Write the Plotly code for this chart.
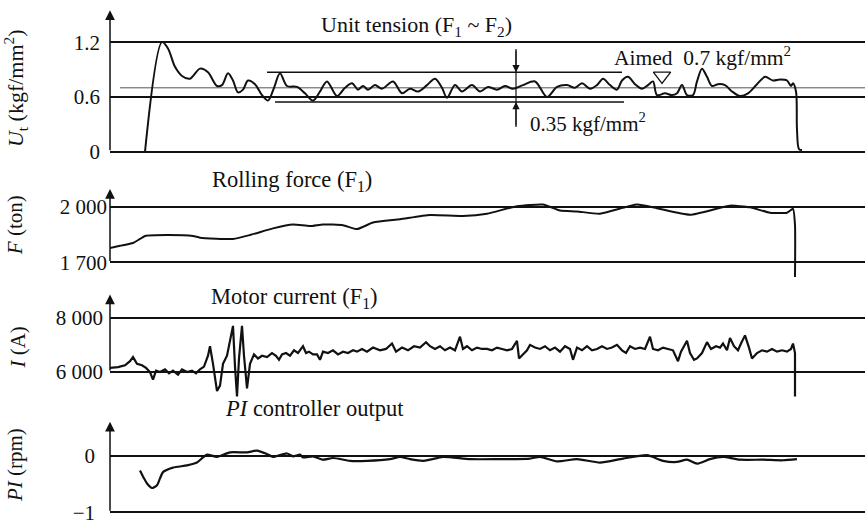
import plotly.graph_objects as go

# ---------------- data ----------------
# Panel 1: unit tension Ut (kgf/mm^2) vs time (s)
ut_t = [3.5, 5.2, 5.8, 6.5, 7.2, 8.0, 9.0, 9.8, 10.7, 11.2, 11.8, 12.3, 12.8, 13.3, 13.8, 14.5,
        15.2, 15.8, 16.4, 17.0, 17.7, 18.7, 19.5, 20.3, 21.0, 21.7, 22.7, 23.5, 24.2, 24.8, 25.3,
        25.8, 26.5, 27.2, 28.3, 29.2, 30.0, 30.8, 31.7, 32.5, 33.2, 33.7, 34.5, 35.2, 36.2, 37.0,
        37.8, 38.7, 39.5, 40.3, 41.3, 42.5, 43.7, 44.7, 45.7, 46.5, 47.2, 48.0, 48.7, 49.3, 50.0,
        50.7, 51.2, 51.8, 52.5, 53.2, 53.8, 54.3, 54.7, 55.5, 56.2, 56.7, 57.2, 57.7, 58.3, 58.7,
        59.2, 59.7, 60.2, 60.8, 61.5, 62.2, 63.0, 63.8, 64.7, 65.5, 66.3, 67.0, 67.7, 68.1, 68.3,
        68.6, 68.7, 68.9, 69.2]
ut_v = [0.00, 1.20, 1.13, 0.93, 0.83, 0.80, 0.91, 0.87, 0.72, 0.73, 0.86, 0.78, 0.65, 0.68, 0.78, 0.74,
        0.62, 0.56, 0.70, 0.86, 0.72, 0.71, 0.64, 0.56, 0.66, 0.77, 0.61, 0.70, 0.75, 0.68, 0.72,
        0.68, 0.73, 0.69, 0.77, 0.64, 0.69, 0.66, 0.73, 0.80, 0.70, 0.59, 0.73, 0.66, 0.73, 0.66,
        0.71, 0.68, 0.72, 0.69, 0.73, 0.77, 0.60, 0.71, 0.73, 0.70, 0.75, 0.69, 0.73, 0.80, 0.73,
        0.68, 0.78, 0.82, 0.74, 0.69, 0.73, 0.77, 0.62, 0.64, 0.62, 0.64, 0.73, 0.62, 0.62, 0.77,
        0.91, 0.82, 0.72, 0.74, 0.73, 0.66, 0.61, 0.64, 0.74, 0.82, 0.78, 0.79, 0.78, 0.72, 0.75,
        0.66, 0.24, 0.03, 0.02]
ut_ticks = [0, 0.6, 1.2]
ut_ticktext = ["0", "0.6", "1.2"]
aimed_value = 0.7
aimed_t = [1.0, 75.5]
band_upper_t = [15.7, 51.2]
band_upper_v = 0.87
band_lower_t = [16.5, 51.4]
band_lower_v = 0.545
dim_t = 40.6
dim_top, dim_bottom = 1.125, 0.27
marker_t, marker_v = 55.2, 0.83

# Panel 2: rolling force F (ton)
f_t = [0.0, 1.0, 2.3, 3.0, 3.5, 5.7, 8.3, 9.0, 12.3, 14.0, 16.3, 18.3, 20.0, 21.3, 23.3, 24.7,
       26.3, 29.0, 32.0, 35.3, 37.7, 40.7, 43.3, 45.0, 46.7, 49.0, 52.7, 54.7, 58.0, 62.0, 64.0,
       66.0, 67.7, 68.3, 68.5, 68.5]
f_v = [1777, 1789, 1804, 1826, 1842, 1847, 1842, 1833, 1826, 1847, 1883, 1904, 1895, 1904, 1900, 1879,
       1914, 1932, 1955, 1950, 1962, 2002, 2011, 1979, 1974, 1962, 2011, 1991, 1956, 2005, 1996,
       1967, 1967, 1988, 1900, 1621]
f_ticks = [1700, 2000]
f_ticktext = ["1 700", "2 000"]

# Panel 3: motor current I (A)
i_t = [0.0, 0.8, 1.5, 2.0, 2.3, 2.7, 3.2, 3.6, 4.0, 4.3, 4.6, 5.0, 5.5, 5.9, 6.3, 6.8, 7.2, 7.7,
       8.2, 8.6, 9.0, 9.4, 9.8, 10.0, 10.3, 10.7, 11.0, 11.3, 11.7, 12.0, 12.3, 12.5, 12.7, 12.9,
       13.2, 13.4, 13.7, 14.0, 14.4, 14.8, 15.2, 15.7, 16.2, 16.6, 16.9, 17.2, 17.6, 18.0, 18.4,
       18.8, 19.3, 19.6, 19.9, 20.3, 20.7, 21.0, 21.3, 21.8, 22.3, 22.8, 23.3, 23.8, 24.3, 24.7,
       25.2, 25.7, 26.3, 27.0, 27.6, 28.2, 28.6, 29.2, 29.8, 30.4, 31.0, 31.6, 32.0, 32.5, 33.0,
       33.5, 34.0, 34.5, 35.0, 35.3, 35.7, 36.2, 36.7, 37.2, 37.7, 38.2, 38.7, 39.2, 39.7, 40.2,
       40.7, 40.9, 41.3, 41.7, 42.0, 42.5, 43.0, 43.5, 44.0, 44.5, 45.0, 45.5, 46.0, 46.3, 46.7,
       47.2, 47.7, 48.2, 48.7, 49.2, 49.7, 50.2, 50.7, 51.2, 51.6, 52.0, 52.5, 53.0, 53.5, 54.0,
       54.3, 54.8, 55.3, 55.8, 56.3, 56.8, 57.1, 57.7, 58.0, 58.4, 58.7, 59.2, 59.7, 60.1, 60.6,
       61.0, 61.3, 61.7, 62.0, 62.4, 62.8, 63.1, 63.5, 63.9, 64.2, 64.7, 65.2, 65.7, 66.2, 66.7,
       67.2, 67.7, 68.1, 68.3, 68.5, 68.5]
i_v = [6150, 6180, 6250, 6400, 6550, 6300, 6250, 6150, 6000, 5720, 6050, 6000, 6100, 5950, 6050, 5900, 6100, 6000,
       6050, 5950, 6100, 6200, 6600, 6950, 6300, 5300, 5500, 6300, 6600, 7100, 7700, 6200, 5100, 6500,
       7700, 6600, 5400, 6300, 6650, 6500, 6600, 6550, 6700, 6600, 6450, 6650, 6700, 6600, 6800,
       6700, 6950, 6700, 6750, 6650, 6650, 6450, 6750, 6700, 6800, 6650, 6750, 6700, 6800, 6750,
       6850, 6750, 6900, 6800, 6850, 7050, 6750, 6900, 6800, 6950, 6900, 7100, 6950, 6850, 6950,
       6800, 6900, 6800, 7300, 6850, 6950, 6800, 6900, 6850, 6850, 6800, 6900, 6850, 6800, 6850,
       7150, 6500, 6650, 6800, 7000, 6900, 6850, 6950, 6800, 6900, 6750, 6950, 6850, 6450, 6900,
       6800, 6950, 6800, 6850, 6950, 6850, 6900, 7000, 6800, 6700, 6950, 6850, 6900, 6850, 7300,
       6850, 6800, 6900, 6850, 6800, 6400, 6750, 7150, 6700, 6450, 6500, 6700, 7100, 6850, 6950,
       6900, 7050, 6800, 7250, 6950, 6800, 7050, 7350, 6900, 6500, 6700, 6800, 6750, 6850, 6750,
       6800, 6750, 6850, 7050, 6700, 5100]
i_ticks = [6000, 8000]
i_ticktext = ["6 000", "8 000"]

# Panel 4: PI controller output (rpm)
pi_t = [3.0, 3.4, 3.7, 4.2, 4.7, 5.0, 5.3, 6.3, 7.7, 8.7, 9.3, 9.7, 10.7, 12.0, 13.7, 14.7, 15.7,
        16.3, 17.7, 18.3, 19.0, 19.3, 20.3, 21.3, 22.3, 24.0, 25.7, 28.0, 29.0, 30.0, 31.3, 32.0,
        33.3, 36.0, 38.7, 42.0, 43.0, 44.7, 46.7, 49.0, 51.3, 53.7, 55.3, 56.7, 57.7, 58.7, 60.0,
        61.3, 63.0, 65.3, 67.3, 68.7]
pi_v = [-0.26, -0.40, -0.49, -0.57, -0.52, -0.40, -0.29, -0.21, -0.17, -0.12, -0.03, 0.02, -0.02, 0.06,
        0.06, 0.09, 0.03, -0.02, 0.04, -0.01, 0.02, -0.03, -0.01, -0.07, -0.04, -0.09, -0.09, -0.06,
        -0.02, -0.06, -0.09, -0.07, -0.02, -0.06, -0.06, -0.05, -0.02, -0.10, -0.06, -0.12, -0.05,
        0.01, -0.09, -0.11, -0.07, -0.14, -0.06, -0.02, -0.07, -0.07, -0.08, -0.06]
pi_ticks = [-1, 0]
pi_ticktext = ["\u22121", "0"]

# ---------------- figure ----------------
SERIF = "Liberation Serif, Times New Roman, serif"
BLACK = "#111111"
X_RANGE = [0, 75.5]
X_DOMAIN = [110 / 865, 1.0]

fig = go.Figure()

fig.add_trace(go.Scatter(x=aimed_t, y=[aimed_value, aimed_value], mode="lines",
                         line=dict(color="#555555", width=1), xaxis="x", yaxis="y", hoverinfo="skip"))
fig.add_trace(go.Scatter(x=band_upper_t, y=[band_upper_v] * 2, mode="lines",
                         line=dict(color=BLACK, width=1.6), xaxis="x", yaxis="y"))
fig.add_trace(go.Scatter(x=band_lower_t, y=[band_lower_v] * 2, mode="lines",
                         line=dict(color=BLACK, width=1.6), xaxis="x", yaxis="y"))
fig.add_trace(go.Scatter(x=[dim_t, dim_t], y=[dim_top, dim_bottom], mode="lines",
                         line=dict(color=BLACK, width=1.2), xaxis="x", yaxis="y"))
fig.add_trace(go.Scatter(x=ut_t, y=ut_v, mode="lines", line=dict(color=BLACK, width=2, shape="spline", smoothing=0.9),
                         xaxis="x", yaxis="y"))
fig.add_trace(go.Scatter(x=[marker_t], y=[marker_v], mode="markers",
                         marker=dict(symbol="triangle-down-open", size=15, color=BLACK, line=dict(width=1.3)),
                         xaxis="x", yaxis="y"))

fig.add_trace(go.Scatter(x=f_t, y=f_v, mode="lines", line=dict(color=BLACK, width=2, shape="spline", smoothing=0.5),
                         xaxis="x2", yaxis="y2"))
fig.add_trace(go.Scatter(x=i_t, y=i_v, mode="lines", line=dict(color=BLACK, width=2.2),
                         xaxis="x3", yaxis="y3"))
fig.add_trace(go.Scatter(x=pi_t, y=pi_v, mode="lines", line=dict(color=BLACK, width=2.2, shape="spline", smoothing=0.6),
                         xaxis="x4", yaxis="y4"))

def yax(domain, rng, tickvals, ticktext, anchor, standoff):
    return dict(domain=domain, range=rng, tickvals=tickvals, ticktext=ticktext, anchor=anchor,
                showgrid=True, gridcolor=BLACK, gridwidth=1.5, zeroline=False, showline=False,
                ticks="", ticklabelstandoff=standoff, fixedrange=True, ticklabeloverflow="allow",
                tickfont=dict(family=SERIF, size=21, color=BLACK))

def xax(anchor):
    return dict(domain=X_DOMAIN, range=X_RANGE, anchor=anchor, showgrid=False, zeroline=False,
                showline=False, showticklabels=False, ticks="", fixedrange=True)

fig.update_layout(
    width=865, height=525, margin=dict(l=0, r=0, t=0, b=0),
    paper_bgcolor="white", plot_bgcolor="white", showlegend=False,
    xaxis=xax("y"), xaxis2=xax("y2"), xaxis3=xax("y3"), xaxis4=xax("y4"),
    yaxis=yax([0.69905, 0.98476], [-0.032, 1.5756], ut_ticks, ut_ticktext, "x", 9),
    yaxis2=yax([0.45524, 0.63619], [1605.3, 2105.3], f_ticks, f_ticktext, "x2", 2),
    yaxis3=yax([0.22286, 0.43048], [4991, 8919], i_ticks, i_ticktext, "x3", 6),
    yaxis4=yax([0.0, 0.18286], [-1.029, 0.631], pi_ticks, pi_ticktext, "x4", 14),
)

# y-axis arrows (from bottom tick value to top)
axis_arrows = [("x", "y", 0, 1.55), ("x2", "y2", 1700, 2095), ("x3", "y3", 6000, 8850), ("x4", "y4", -1, 0.6)]
for xr, yr, lo, hi in axis_arrows:
    fig.add_annotation(x=0, y=hi, xref=xr, yref=yr, ax=0, ay=lo, axref=xr, ayref=yr,
                       showarrow=True, arrowhead=2, arrowsize=1.3, arrowwidth=1.5, arrowcolor=BLACK, text="")

# dimension arrows
fig.add_annotation(x=dim_t, y=band_upper_v, xref="x", yref="y", ax=dim_t, ay=dim_top, axref="x", ayref="y",
                   showarrow=True, arrowhead=2, arrowsize=1.2, arrowwidth=1.2, arrowcolor=BLACK, text="")
fig.add_annotation(x=dim_t, y=band_lower_v, xref="x", yref="y", ax=dim_t, ay=dim_bottom, axref="x", ayref="y",
                   showarrow=True, arrowhead=2, arrowsize=1.2, arrowwidth=1.2, arrowcolor=BLACK, text="")

def txt(text, x, y, size=22.5, xanchor="center", angle=0):
    fig.add_annotation(text=text, x=x, y=y, xref="paper", yref="paper", showarrow=False,
                       xanchor=xanchor, yanchor="middle", textangle=angle,
                       font=dict(family=SERIF, size=size, color=BLACK))

txt("Unit tension (F<sub>1</sub> ~ F<sub>2</sub>)", 0.481, 0.9486, size=22)
txt("Aimed  0.7 kgf/mm<sup>2</sup>", 0.8116, 0.891, size=21.5)
txt("0.35 kgf/mm<sup>2</sup>", 0.6104, 0.762, size=21, xanchor="left")
txt("Rolling force (F<sub>1</sub>)", 0.3376, 0.6476)
txt("Motor current (F<sub>1</sub>)", 0.34, 0.421)
txt("<i>PI</i> controller output", 0.364, 0.2057)

txt("<i>U</i><sub>t</sub> (kgf/mm<sup>2</sup>)", 0.0173, 0.8286, size=22, angle=-90)
txt("<i>F</i> (ton)", 0.0173, 0.5619, size=21, angle=-90)
txt("<i>I</i> (A)", 0.0208, 0.3238, size=21, angle=-90)
txt("<i>PI</i> (rpm)", 0.0173, 0.0952, size=21, angle=-90)

fig.write_html("out.html", config={"displayModeBar": False},
               post_script="document.body.style.margin='0';")
